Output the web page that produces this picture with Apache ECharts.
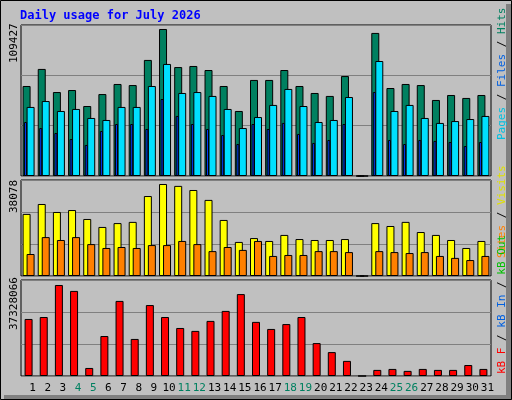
<!DOCTYPE html>
<html><head><meta charset="utf-8">
<script src="https://cdn.jsdelivr.net/npm/echarts@6/dist/echarts.min.js"></script>
<style>html,body{margin:0;padding:0;background:#c0c0c0}#c{width:512px;height:400px}</style>
</head><body><div id="c"></div>
<script>
var days = ['1','2','3','4','5','6','7','8','9','10','11','12','13','14','15','16','17','18','19','20','21','22','23','24','25','26','27','28','29','30','31'];
var weekend = ['4','5','11','12','18','19','25','26'];
var hits  = [67000,79700,62500,64000,52100,61000,68500,67700,86400,109427,81100,81900,78900,67000,48400,71500,71500,78900,67000,61800,59600,74400,0,106500,65500,68500,67700,56600,60300,58100,60300];
var files = [51400,55800,48400,49900,43200,41700,51400,51400,67000,83400,61800,62500,59600,49900,35700,43900,52900,64800,52100,40200,41700,58800,0,85600,48400,52900,43200,39500,40900,42400,44700];
var pages = [40200,35700,32000,27500,23100,33500,38700,38700,35000,57300,44700,38700,35000,30500,23800,38700,35000,39500,31300,24600,26800,38700,0,62500,26800,23800,26800,26100,25300,22300,25300];
var visits= [25700,29800,26500,27300,23600,20300,21900,22400,33100,38078,37300,35600,31500,23200,14100,15700,14500,17000,15300,14900,14900,15300,0,21900,20700,22400,18200,17000,14900,11600,14500];
var sites = [9100,16100,14900,16100,13200,11600,12000,11600,12800,12800,14500,13200,10300,12000,10800,14500,8300,8700,8700,10300,10300,9900,0,10300,9900,9500,9900,8300,7500,6600,8300];
var kbytes= [23400000,24200000,37328066,34900000,3300000,16400000,30800000,15200000,29100000,24200000,19700000,18500000,22600000,26700000,33600000,22200000,19300000,21300000,24200000,13500000,9800000,6200000,0,2500000,2900000,2100000,2900000,2500000,2500000,4500000,2900000];
var maxLabels = ['109427','38078','37328066'];

var mono = 'DejaVu Sans Mono';
var L=21, R=21;
var tops=[25,180,280], hs=[151,96,96], maxes=[112400,39733,39379000];
var grids=[], xA=[], yA=[];
function addGrid(i,top,h,max,shift,labels){
  grids.push({left:L+shift,right:R-shift,top:top,height:h,show:shift===0,borderColor:'#000',borderWidth:1,backgroundColor:'transparent'});
  xA.push({type:'category',data:days,gridIndex:i,axisLine:{show:false},axisTick:{show:false},
    axisLabel:{show:!!labels,interval:0,fontFamily:mono,fontSize:11,margin:7,padding:[0,0,0,8],
      formatter:function(v){return weekend.indexOf(v)>=0?'{w|'+v+'}':'{n|'+v+'}';},
      rich:{w:{color:'#008060',fontFamily:mono,fontSize:11},n:{color:'#000',fontFamily:mono,fontSize:11}}}});
  yA.push({type:'value',gridIndex:i,min:0,max:max,interval:max/3,axisLabel:{show:false},axisLine:{show:false},axisTick:{show:false},
    splitLine:{show:shift===0,lineStyle:{color:'#808080',width:1}}});
}
addGrid(0,tops[0],hs[0],maxes[0],0);
addGrid(1,tops[0],hs[0],maxes[0],-3);
addGrid(2,tops[1],hs[1],maxes[1],0);
addGrid(3,tops[2],hs[2],maxes[2],0,true);
var bs={borderColor:'#000',borderWidth:1};
function bar(name,data,xi,color,w,gap){
  return {name:name,type:'bar',xAxisIndex:xi,yAxisIndex:xi,data:data,barWidth:w,barGap:gap,
    itemStyle:Object.assign({color:color},bs),animation:false,silent:true};
}
var series=[
  bar('Hits',hits,0,'#008060',8,'-50%'),
  bar('Files',files,0,'#00e0ff',8,'-50%'),
  bar('Pages',pages,1,'#0040ff',3),
  bar('Visits',visits,2,'#ffff00',8,'-50%'),
  bar('Sites',sites,2,'#ff8000',8,'-50%'),
  bar('kB F',kbytes,3,'#ff0000',8)
];
function vtext(x,y,rich,text){
  return {type:'text',x:x,y:y,rotation:Math.PI/2,style:{text:text,rich:rich,fontFamily:mono,fontSize:11,align:'left',verticalAlign:'middle',fill:'#000'}};
}
var g=[
  {type:'rect',shape:{x:506,y:4,width:6,height:396},style:{fill:'#808080'}},
  {type:'rect',shape:{x:4,y:395,width:508,height:5},style:{fill:'#808080'}},
  {type:'rect',shape:{x:0.5,y:0.5,width:511,height:399},style:{fill:'none',stroke:'#000',lineWidth:1}},
  {type:'text',x:20,y:16,style:{text:'Daily usage for July 2026',fontFamily:mono,fontWeight:'bold',fontSize:12,fill:'#0000ff',verticalAlign:'middle'}},
  {type:'text',x:14,y:63,rotation:Math.PI/2,style:{text:maxLabels[0],fontFamily:mono,fontSize:11,fill:'#000',verticalAlign:'middle'}},
  {type:'text',x:14,y:213,rotation:Math.PI/2,style:{text:maxLabels[1],fontFamily:mono,fontSize:11,fill:'#000',verticalAlign:'middle'}},
  {type:'text',x:14,y:330,rotation:Math.PI/2,style:{text:maxLabels[2],fontFamily:mono,fontSize:11,fill:'#000',verticalAlign:'middle'}}
];
var rich={c:{fill:'#00c0e0',color:'#00c0e0'},b:{fill:'#0060e0',color:'#0060e0'},g:{fill:'#008060',color:'#008060'},y:{fill:'#e0e000',color:'#e0e000'},o:{fill:'#ff8000',color:'#ff8000'},r:{fill:'#ff0000',color:'#ff0000'},k:{fill:'#000',color:'#000'},l:{fill:'#00c000',color:'#00c000'}};
Object.keys(rich).forEach(function(k){rich[k].fontFamily=mono;rich[k].fontSize=11;});
g.push(vtext(502,140,rich,'{c|Pages}{k| / }{b|Files}{k| / }{g|Hits}'));
g.push(vtext(502,258,rich,'{o|Sites}{k| / }{y|Visits}'));
g.push(vtext(502,374,rich,'{r|kB F}{k| / }{b|kB In}{k| / }{l|kB Out}'));
var chart=echarts.init(document.getElementById('c'));
chart.setOption({backgroundColor:'#c0c0c0',animation:false,grid:grids,xAxis:xA,yAxis:yA,series:series,graphic:g});
</script></body></html>
